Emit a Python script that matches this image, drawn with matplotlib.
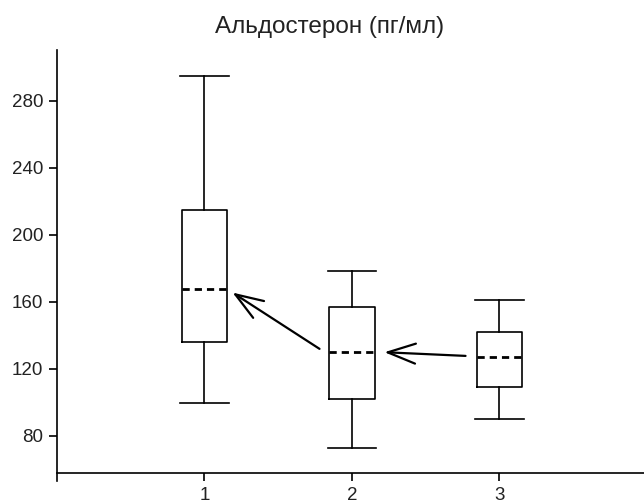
from matplotlib import pyplot as plt

plt.rcParams['font.family'] = ['Liberation Sans', 'DejaVu Sans']

# box statistics
groups = [1, 2, 3]
whisker_low = [99.7, 72.6, 90.3]
q1 = [136.3, 101.9, 109.4]
median = [167.8, 130.0, 127.0]
q3 = [215.0, 157.2, 141.9]
whisker_high = [295.0, 178.5, 161.2]

y_ticks = [80, 120, 160, 200, 240, 280]
title = 'Альдостерон (пг/мл)'

# arrows: (tail x, tail y) -> (tip x, tip y)
arrows = [((1.78, 132.0), (1.19, 165.6)),
          ((2.77, 127.8), (2.22, 130.0))]

stats = []
for g, lo, a, m, b, hi in zip(groups, whisker_low, q1, median, q3, whisker_high):
    stats.append({'label': str(g), 'whislo': lo, 'q1': a, 'med': m,
                  'q3': b, 'whishi': hi, 'fliers': []})

fig = plt.figure(figsize=(6.44, 5.01), dpi=100)
ax = fig.add_axes([57 / 644, 1 - 473 / 501, 1 - 57 / 644, (473 - 50) / 501])

line = dict(color='black', linewidth=1.2)
ax.bxp(stats, positions=groups, widths=0.31, showfliers=False,
       boxprops=line, whiskerprops=line, capprops=line,
       medianprops=dict(color='black', linewidth=2.0, linestyle=(0, (2.6, 1.8))),
       capwidths=0.33)

for tail, tip in arrows:
    ax.annotate('', xy=tip, xytext=tail,
                arrowprops=dict(arrowstyle='->,head_length=1.0,head_width=0.36',
                                lw=1.6, color='black', mutation_scale=20,
                                shrinkA=0, shrinkB=0))

ax.set_xlim(0, 3.98)
ax.set_ylim(57.9, 310.4)
ax.set_yticks(y_ticks)
ax.set_xticks(groups)
ax.set_xticklabels([str(g) for g in groups])

ax.spines['top'].set_visible(False)
ax.spines['right'].set_visible(False)
ax.spines['left'].set_linewidth(1.2)
ax.spines['bottom'].set_linewidth(1.2)
ax.spines['left'].set_bounds(53.0, 310.4)
ax.tick_params(axis='both', direction='out', length=6, width=1.2,
               labelsize=13.5, labelcolor='#222222', pad=4)

fig.text(330 / 644, 1 - 27 / 501, title, fontsize=17.5, color='#222222',
         ha='center', va='center')

fig.savefig('out.png', dpi=100)
